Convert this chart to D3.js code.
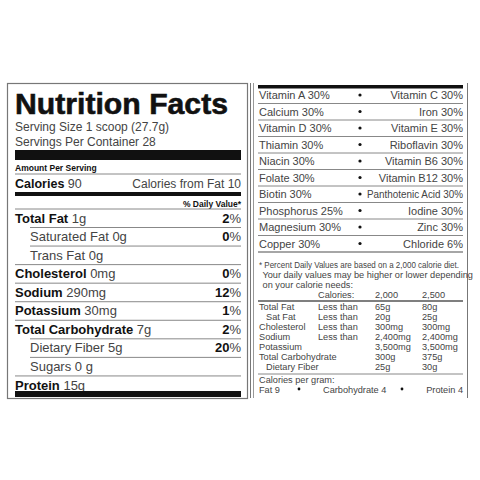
<!DOCTYPE html>
<html><head><meta charset="utf-8">
<script src="https://cdn.jsdelivr.net/npm/d3@7"></script>
<style>body{margin:0;background:#fff}svg{font-family:"Liberation Sans",Arial,sans-serif}</style>
</head><body><svg id="c" width="480" height="480"></svg>
<script>
const nutrients=["Total Fat","Saturated Fat","Trans Fat","Cholesterol","Sodium","Potassium","Total Carbohydrate","Dietary Fiber","Sugars","Protein"];
const amounts=["1g","0g","0g","0mg","290mg","30mg","7g","5g","0 g","15g"];
const dvPct=["2","0","","0","12","1","2","20","",""];
const subItem=[false,true,true,false,false,false,false,true,true,false];
const vitLeft=["Vitamin A","Calcium","Vitamin D","Thiamin","Niacin","Folate","Biotin","Phosphorus","Magnesium","Copper"];
const vitLeftPct=["30%","30%","30%","30%","30%","30%","30%","25%","30%","30%"];
const vitRight=["Vitamin C","Iron","Vitamin E","Riboflavin","Vitamin B6","Vitamin B12","Panthotenic Acid","Iodine","Zinc","Chloride"];
const vitRightPct=["30%","30%","30%","30%","30%","30%","30%","30%","30%","6%"];
const refLabels=["Total Fat","Sat Fat","Cholesterol","Sodium","Potassium","Total Carbohydrate","Dietary Fiber"];
const refQual=["Less than","Less than","Less than","Less than","","",""];
const ref2000=["65g","20g","300mg","2,400mg","3,500mg","300g","25g"];
const ref2500=["80g","25g","300mg","2,400mg","3,500mg","375g","30g"];

const svg=d3.select("#c");
const ink="#111", grey="#444", ln="#888";
svg.append("rect").attr("x",7.5).attr("y",83.5).attr("width",240).attr("height",315).attr("fill","none").attr("stroke","#777").attr("stroke-width",1.2);
svg.append("text").attr("x",15).attr("y",114).attr("font-size",30).attr("font-weight",900).attr("fill",ink)
  .attr("stroke",ink).attr("stroke-width",0.6)
  .attr("textLength",213).attr("lengthAdjust","spacingAndGlyphs").text("Nutrition Facts");
svg.append("text").attr("x",15).attr("y",131).attr("font-size",12).attr("fill",grey).text("Serving Size 1 scoop (27.7g)");
svg.append("text").attr("x",15).attr("y",146).attr("font-size",12).attr("fill",grey).text("Servings Per Container 28");
svg.append("rect").attr("x",15).attr("y",150).attr("width",226).attr("height",10).attr("fill",ink);
svg.append("text").attr("x",15).attr("y",170.5).attr("font-size",8.5).attr("font-weight",900).attr("fill",ink).text("Amount Per Serving");
svg.append("line").attr("x1",15).attr("x2",241).attr("y1",174).attr("y2",174).attr("stroke",ln);
const cal=svg.append("text").attr("x",15).attr("y",187.5).attr("font-size",12.5).attr("fill",ink);
cal.append("tspan").attr("font-weight",900).text("Calories ");
cal.append("tspan").attr("fill",grey).text("90");
svg.append("text").attr("x",241).attr("y",187.5).attr("text-anchor","end").attr("font-size",12).attr("fill",grey).text("Calories from Fat 10");
svg.append("rect").attr("x",15).attr("y",192).attr("width",226).attr("height",4).attr("fill",ink);
svg.append("text").attr("x",241).attr("y",206.5).attr("text-anchor","end").attr("font-size",8.5).attr("font-weight",900).attr("fill",ink).text("% Daily Value*");
svg.append("line").attr("x1",15).attr("x2",241).attr("y1",209).attr("y2",209).attr("stroke",ln);

const yRow=d3.scaleLinear().domain([0,9]).range([218,385]);
const g=svg.append("g");
nutrients.forEach((n,i)=>{
  const y=yRow(i);
  const t=g.append("text").attr("x",subItem[i]?30:15).attr("y",y+4.5).attr("font-size",13).attr("fill",ink);
  if(subItem[i]) t.append("tspan").attr("fill",grey).text(n+"  "+amounts[i]);
  else {t.append("tspan").attr("font-weight",900).text(n+"  ");t.append("tspan").attr("fill",grey).text(amounts[i]);}
  if(dvPct[i]!==""){
    const p=g.append("text").attr("x",241).attr("y",y+4.5).attr("text-anchor","end").attr("font-size",13).attr("fill",ink);
    p.append("tspan").attr("font-weight",900).text(dvPct[i]);p.append("tspan").attr("fill",grey).text("%");
  }
  if(i<nutrients.length-1){
    const indent=subItem[i+1];
    g.append("line").attr("x1",indent?30:15).attr("x2",241).attr("y1",y+9.5).attr("y2",y+9.5).attr("stroke",ln);
  }
});
svg.append("rect").attr("x",15).attr("y",391).attr("width",226).attr("height",6).attr("fill",ink);

svg.append("line").attr("x1",250.5).attr("x2",250.5).attr("y1",83).attr("y2",398).attr("stroke","#777");
svg.append("line").attr("x1",253.5).attr("x2",253.5).attr("y1",83).attr("y2",398).attr("stroke","#999");
svg.append("line").attr("x1",467.5).attr("x2",467.5).attr("y1",83).attr("y2",398).attr("stroke","#777");
svg.append("rect").attr("x",258).attr("y",85).attr("width",205).attr("height",3.5).attr("fill",ink);
const yV=d3.scaleLinear().domain([0,9]).range([95,243.5]);
vitLeft.forEach((v,i)=>{
  const y=yV(i);
  svg.append("text").attr("x",259).attr("y",y+4).attr("font-size",11).attr("fill",grey).text(v+"  "+vitLeftPct[i]);
  svg.append("circle").attr("cx",360).attr("cy",y).attr("r",1.6).attr("fill",ink);
  const rt=svg.append("text").attr("x",463).attr("y",y+4).attr("text-anchor","end").attr("font-size",11).attr("fill",grey).text(vitRight[i]+"  "+vitRightPct[i]);
  if(vitRight[i].length>12) rt.attr("textLength",96).attr("lengthAdjust","spacingAndGlyphs");
  svg.append("line").attr("x1",258).attr("x2",463).attr("y1",y+8.5).attr("y2",y+8.5).attr("stroke",ln).attr("stroke-width",i==9?1.5:1);
});
const fs=9.2;
[["* Percent Daily Values are based on a 2,000 calorie diet.",259,268],[" Your daily values may be higher or lower depending",260,278],[" on your calorie needs:",260,288]].forEach(d=>
  svg.append("text").attr("x",d[1]).attr("y",d[2]).attr("font-size",fs).attr("fill",grey).attr("xml:space","preserve")
    .attr("textLength",d[2]==268?200:null).attr("lengthAdjust","spacingAndGlyphs").text(d[0]));
svg.append("text").attr("x",318).attr("y",298).attr("font-size",fs).attr("fill",grey).text("Calories:");
svg.append("text").attr("x",375).attr("y",298).attr("font-size",fs).attr("fill",grey).text("2,000");
svg.append("text").attr("x",422).attr("y",298).attr("font-size",fs).attr("fill",grey).text("2,500");
svg.append("line").attr("x1",258).attr("x2",463).attr("y1",301).attr("y2",301).attr("stroke","#555").attr("stroke-width",1.3);
const yR=d3.scaleLinear().domain([0,6]).range([310,370]);
refLabels.forEach((r,i)=>{
  const y=yR(i);
  svg.append("text").attr("x",(i==1||i==6)?266:259).attr("y",y).attr("font-size",fs).attr("fill",grey).text(r);
  svg.append("text").attr("x",318).attr("y",y).attr("font-size",fs).attr("fill",grey).text(refQual[i]);
  svg.append("text").attr("x",375).attr("y",y).attr("font-size",fs).attr("fill",grey).text(ref2000[i]);
  svg.append("text").attr("x",422).attr("y",y).attr("font-size",fs).attr("fill",grey).text(ref2500[i]);
});
svg.append("line").attr("x1",258).attr("x2",463).attr("y1",374).attr("y2",374).attr("stroke",ln);
svg.append("text").attr("x",259).attr("y",382.5).attr("font-size",fs).attr("fill",grey).text("Calories per gram:");
svg.append("text").attr("x",259).attr("y",392.5).attr("font-size",fs).attr("fill",grey).text("Fat 9");
svg.append("circle").attr("cx",299).attr("cy",389).attr("r",1.4).attr("fill",ink);
svg.append("text").attr("x",323).attr("y",392.5).attr("font-size",fs).attr("fill",grey).text("Carbohydrate 4");
svg.append("circle").attr("cx",402).attr("cy",389).attr("r",1.4).attr("fill",ink);
svg.append("text").attr("x",463).attr("y",392.5).attr("text-anchor","end").attr("font-size",fs).attr("fill",grey).text("Protein 4");
</script></body></html>
